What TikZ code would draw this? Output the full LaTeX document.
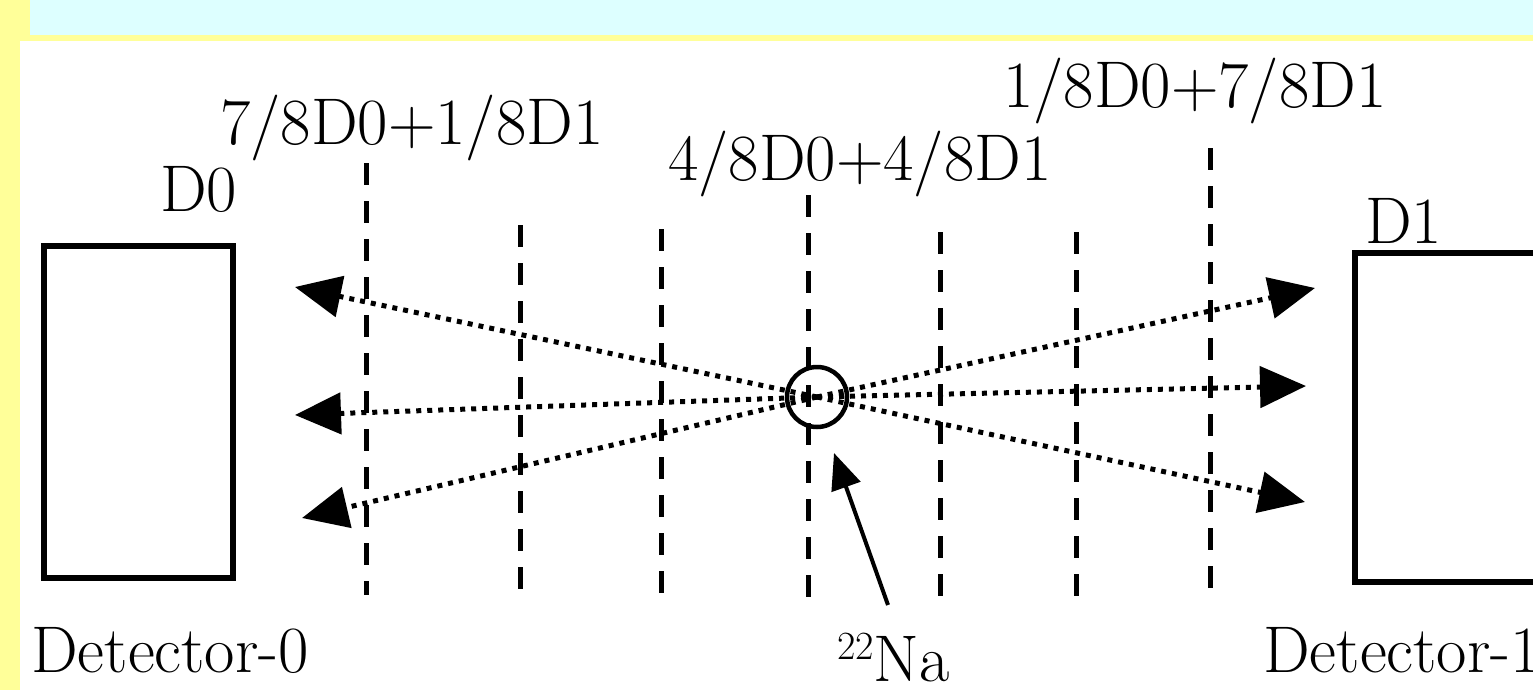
\documentclass[tikz,border=0pt]{standalone}
\usetikzlibrary{arrows.meta}
\definecolor{frameyellow}{HTML}{FFFF99}
\definecolor{titlecyan}{HTML}{DDFFFF}
\tikzset{
  big/.style={font=\fontsize{66}{78}\selectfont, inner sep=0pt, anchor=base west},
  detbox/.style={draw=black, line width=5.5pt, fill=white},
  cut/.style={draw=black, line width=5pt, dash pattern=on 22pt off 16pt},
  ray/.style={draw=black, line width=5pt, dash pattern=on 5pt off 6pt,
              -{Triangle[length=46pt,width=41pt]}},
  pointer/.style={draw=black, line width=4pt, -{Triangle[length=36pt,width=30pt]}}
}
\begin{document}
\begin{tikzpicture}[x=1pt,y=-1pt]
\useasboundingbox (0,0) rectangle (1533,690);
\clip (0,0) rectangle (1533,690);
% background frame
\fill[white] (0,0) rectangle (1533,690);
\fill[frameyellow] (0,0) rectangle (20,690);
\fill[frameyellow] (0,0) rectangle (1533,41);
\fill[titlecyan] (30,0) rectangle (1533,35);
% detectors
\draw[detbox] (44,246) rectangle (233,578);
\node (det0) at (138,412) {};
\draw[detbox] (1355,253) rectangle (1560,582);
\node (det1) at (1450,417) {};
% dashed cut lines
\coordinate (c1t) at (366,163); \coordinate (c1b) at (366,595);
\coordinate (c2t) at (520,225); \coordinate (c2b) at (520,595);
\coordinate (c3t) at (661,229); \coordinate (c3b) at (661,598);
\coordinate (c4t) at (808,195); \coordinate (c4b) at (808,605);
\coordinate (c5t) at (940,232); \coordinate (c5b) at (940,603);
\coordinate (c6t) at (1076,232); \coordinate (c6b) at (1076,603);
\coordinate (c7t) at (1210,148); \coordinate (c7b) at (1210,595);
\foreach \i in {1,...,7} { \draw[cut] (c\i t) -- (c\i b); }
% source
\node[draw=black, line width=4.5pt, circle, minimum size=60pt, inner sep=0pt] (src) at (817,397) {};
% rays
\coordinate (l1) at (295,287);
\coordinate (l2) at (295,415);
\coordinate (l3) at (302,518);
\coordinate (r1) at (1315,288);
\coordinate (r2) at (1306,386);
\coordinate (r3) at (1305,502);
\foreach \t in {l1,l2,l3,r1,r2,r3} { \draw[ray] (src.center) -- (\t); }
% pointer to source
\coordinate (ptail) at (888,605);
\coordinate (ptip) at (834,453);
\draw[pointer] (ptail) -- (ptip);
% labels
\node[big] (lab1) at (220,145) {7/8D0+1/8D1};
\node[big] (lab4) at (668,180) {4/8D0+4/8D1};
\node[big] (lab7) at (1003,108) {1/8D0+7/8D1};
\node[big] (d0) at (160,211) {D0};
\node[big] (d1) at (1365,243) {D1};
\node[big] (dn0) at (31,672) {Detector-0};
\node[big] (dn1) at (1263,672) {Detector-1};
\node[big] (na) at (837,681) {\raisebox{22pt}{\fontsize{40}{40}\selectfont 22}Na};
\end{tikzpicture}
\end{document}
